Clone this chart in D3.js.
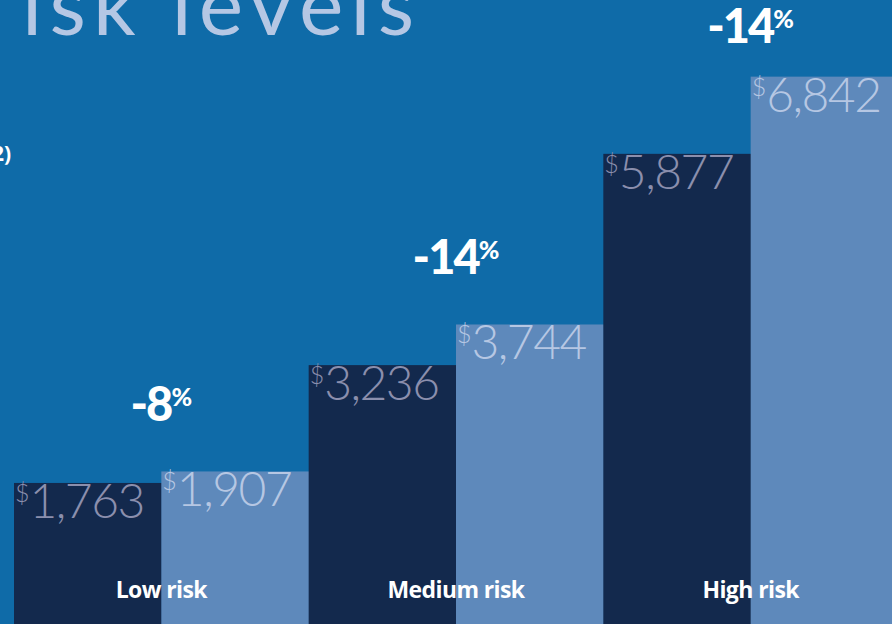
<!DOCTYPE html>
<html>
<head>
<meta charset="utf-8">
<script src="https://cdn.jsdelivr.net/npm/d3@7"></script>
<style>
  body { margin: 0; background: #0f6ba8; overflow: hidden; }
  svg { display: block; }
</style>
</head>
<body>
<svg id="chart"></svg>
<script>
// chart data
const categories = ['Low risk', 'Medium risk', 'High risk'];
const seriesKeys = ['dark', 'light'];
const darkValues = [1763, 3236, 5877];
const lightValues = [1907, 3744, 6842];
const changeLabels = ['-8', '-14', '-14'];
const titleText = 'isk levels';
const subtitleText = '2)';

const width = 892, height = 624;
const colors = {dark: '#13294d', light: '#5e89bb'};
const labelColors = {dark: '#8b8fad', light: '#b6c7e3'};

const svg = d3.select('#chart')
    .attr('width', width)
    .attr('height', height);

svg.append('rect')
    .attr('width', width)
    .attr('height', height)
    .attr('fill', '#0f6ba8');

// rows built from the arrays above
const rows = categories.map((c, i) => ({
  category: c,
  dark: darkValues[i],
  light: lightValues[i],
  change: changeLabels[i]
}));

// scales
const xScale = d3.scaleBand()
    .domain(categories)
    .range([14, 898])
    .padding(0);

const xSub = d3.scaleBand()
    .domain(seriesKeys)
    .range([0, xScale.bandwidth()])
    .padding(0);

const yScale = d3.scaleLinear()
    .domain([0, 7800])
    .range([height, 0]);

// title (cropped at the top)
svg.append('text')
    .attr('x', 22)
    .attr('y', 35)
    .attr('fill', '#b5c7e4')
    .style('font-family', 'Lato, Roboto, sans-serif')
    .style('font-weight', 400)
    .style('font-size', '84px')
    .attr('textLength', 392)
    .attr('lengthAdjust', 'spacing')
    .text(titleText);

svg.append('text')
    .attr('x', 11)
    .attr('y', 161)
    .attr('text-anchor', 'end')
    .attr('fill', '#ffffff')
    .style('font-family', '"Open Sans", sans-serif')
    .style('font-weight', 700)
    .style('font-size', '21px')
    .text(subtitleText);

const groups = svg.selectAll('.group')
    .data(rows)
    .join('g')
    .attr('class', 'group')
    .attr('transform', d => `translate(${xScale(d.category)},0)`);

// bars
groups.selectAll('rect')
    .data(d => seriesKeys.map(k => ({key: k, value: d[k]})))
    .join('rect')
    .attr('x', d => xSub(d.key))
    .attr('y', d => yScale(d.value))
    .attr('width', xSub.bandwidth() + 0.5)
    .attr('height', d => height - yScale(d.value))
    .attr('fill', d => colors[d.key]);

// value labels with superscript dollar sign
const valueLabels = groups.selectAll('.value')
    .data(d => seriesKeys.map(k => ({key: k, value: d[k]})))
    .join('text')
    .attr('class', 'value')
    .attr('x', d => xSub(d.key) + 1)
    .attr('y', d => yScale(d.value) + 35)
    .attr('fill', d => labelColors[d.key])
    .style('font-family', 'Lato, Roboto, sans-serif')
    .style('font-weight', 300)
    .style('font-size', '48px')
    .style('letter-spacing', '-1.5px');

valueLabels.append('tspan')
    .style('font-size', '25px')
    .style('letter-spacing', '0px')
    .attr('dy', -16)
    .text('$');

valueLabels.append('tspan')
    .attr('dy', 16)
    .text(d => d3.format(',')(d.value));

// percent change labels, kept inside the top edge
const pct = groups.append('text')
    .attr('x', xScale.bandwidth() / 2)
    .attr('y', d => Math.max(yScale(d.light) - 50, 43))
    .attr('text-anchor', 'middle')
    .attr('fill', '#ffffff')
    .style('font-family', 'Lato, Roboto, sans-serif')
    .style('font-weight', 900)
    .style('font-size', '47px')
    .style('letter-spacing', '-2px');

pct.append('tspan')
    .text(d => d.change);

pct.append('tspan')
    .style('font-size', '25px')
    .style('letter-spacing', '0px')
    .attr('dy', -15)
    .text('%');

// category labels
groups.append('text')
    .attr('x', xScale.bandwidth() / 2)
    .attr('y', 598)
    .attr('text-anchor', 'middle')
    .attr('fill', '#ffffff')
    .style('font-family', '"Open Sans", sans-serif')
    .style('font-weight', 700)
    .style('font-size', '23px')
    .style('letter-spacing', '-0.6px')
    .text(d => d.category);
</script>
</body>
</html>
